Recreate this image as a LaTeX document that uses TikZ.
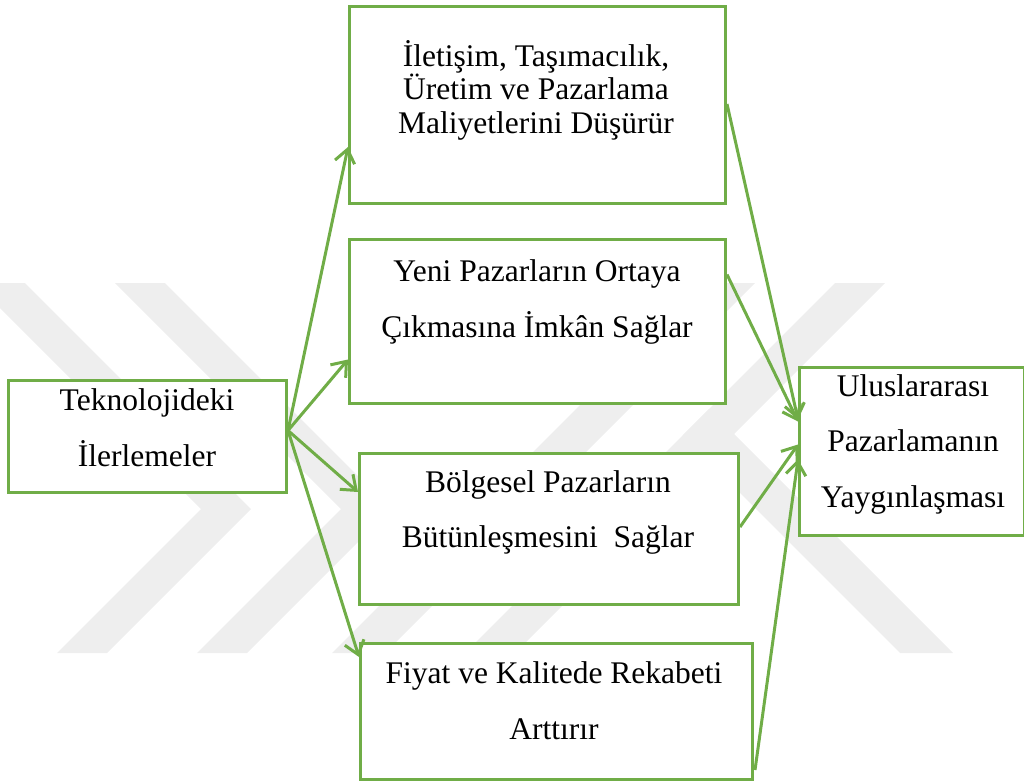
\documentclass[tikz,border=0pt]{standalone}
\usepackage{fontspec}
\setmainfont{Liberation Serif}
\usetikzlibrary{arrows.meta,calc}
\definecolor{boxgreen}{HTML}{70AD47}
\definecolor{markgray}{RGB}{238,238,238}
% centred lines; the baseline of the whole block is that of its first line
\newcommand\tstack[2]{\vtop{\baselineskip=#1\relax\lineskiplimit=-100pt\halign{\hfil##\hfil\cr#2\crcr}}}

\begin{document}
\begin{tikzpicture}[x=1pt,y=-1pt,
  panel/.style={draw=boxgreen, line width=3pt, fill=white, rectangle,
                inner sep=0pt, anchor=north west},
  txt/.style={font=\fontsize{31.5}{56}\selectfont, inner sep=0pt,
              anchor=base, text=black},
  link/.style={draw=boxgreen, line width=3pt,
               -{Straight Barb[length=13pt,width=20pt]}},
  band/.style={fill=markgray, draw=none}]

\useasboundingbox (0,0) rectangle (1024,782);
\clip (0,0) rectangle (1024,782);

% faint background emblem
\fill[band] (-25,283) -- (25,283) -- (251,509) -- (107,653) -- (57,653) -- (201,509) -- cycle;
\fill[band] (115,283) -- (165,283) -- (391,509) -- (247,653) -- (197,653) -- (341,509) -- cycle;
\fill[band] (702,283) -- (755,283) -- (385,653) -- (332,653) -- cycle;
\fill[band] (835,283) -- (885,283) -- (515,653) -- (465,653) -- cycle;
\fill[band] (682.5,435.5) -- (709,409) -- (953,653) -- (900,653) -- cycle;

% boxes
\node[panel, minimum width=278pt, minimum height=112pt] (tek)   at (7,379)   {};
\node[panel, minimum width=376pt, minimum height=197pt] (ilet)  at (348,5)   {};
\node[panel, minimum width=376pt, minimum height=164pt] (yeni)  at (348,238) {};
\node[panel, minimum width=379pt, minimum height=151pt] (bolg)  at (358,452) {};
\node[panel, minimum width=392pt, minimum height=136pt] (fiyat) at (359,642) {};
\node[panel, minimum width=225pt, minimum height=168pt] (ulus)  at (798,366) {};

% connectors
\coordinate (fan) at ($(tek.east)+(0,-6)$);
\draw[link] (fan) -- ($(ilet.west)+(0,42)$);
\draw[link] (fan) -- ($(yeni.west)+(0,38)$);
\draw[link] (fan) -- ($(bolg.west)+(0,-37)$);
\draw[link] (fan) -- ($(fiyat.north west)+(0,15)$);
\draw[link] ($(ilet.east)+(0,-1)$) -- ($(ulus.west)+(0,-32)$);
\draw[link] ($(yeni.east)+(0,-47)$) -- ($(ulus.west)+(0,-30)$);
\draw[link] ($(bolg.east)+(0,-2)$) -- ($(ulus.west)+(0,-7)$);
\draw[link] ($(fiyat.south east)+(1,-11)$) -- ($(ulus.west)+(0,8)$);

% texts
\node[txt] (tekT)   at (147,410) {\tstack{56pt}{Teknolojideki\cr İlerlemeler}};
\node[txt] (iletT)  at (536,66)  {\tstack{33.5pt}{İletişim, Taşımacılık,\cr Üretim ve Pazarlama\cr Maliyetlerini Düşürür}};
\node[txt] (yeniT)  at (537,281) {\tstack{56pt}{Yeni Pazarların Ortaya\cr Çıkmasına İmkân Sağlar}};
\node[txt] (bolgT)  at (548,492) {\tstack{55pt}{Bölgesel Pazarların\cr Bütünleşmesini\ \ Sağlar}};
\node[txt] (fiyatT) at (554,683) {\tstack{56pt}{Fiyat ve Kalitede Rekabeti\cr Arttırır}};
\node[txt] (ulusT)  at (913,396) {\tstack{55.5pt}{Uluslararası\cr Pazarlamanın\cr Yaygınlaşması}};

\end{tikzpicture}
\end{document}
